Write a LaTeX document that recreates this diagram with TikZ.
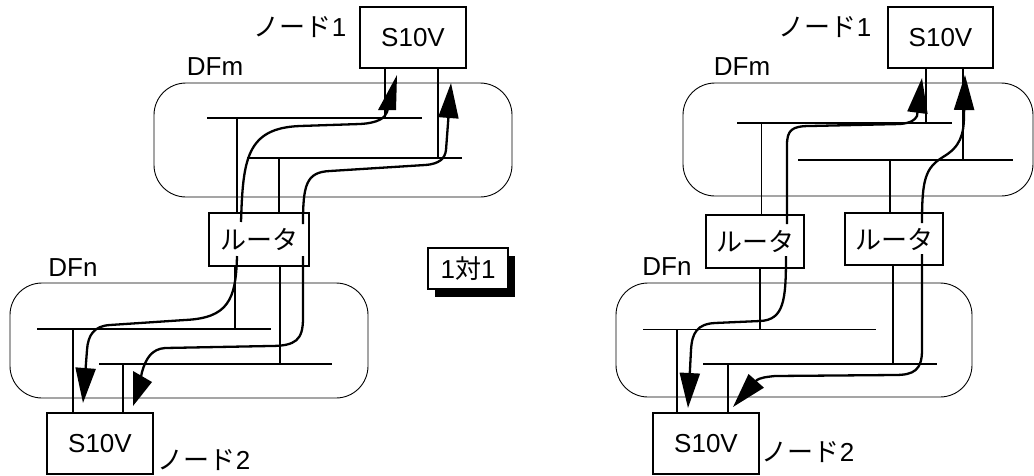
\documentclass[tikz,border=0pt]{standalone}
\usepackage{fontspec}
\setmainfont{Liberation Sans}
\newfontfamily\jp{Noto Sans CJK JP}
\usetikzlibrary{arrows.meta,shadows}
\tikzset{
  txt/.style={font=\fontsize{26}{30}\selectfont, inner sep=0pt},
  sbox/.style={draw, line width=1.7pt, inner sep=0pt, outer sep=0pt, font=\fontsize{26}{30}\selectfont, fill=white},
  dfarea/.style={draw, line width=0.9pt, rounded corners=32pt, inner sep=0pt},
  bus/.style={line width=1.6pt},
  thinbus/.style={line width=0.9pt},
  flowtip/.tip={Triangle[length=35pt 0 0,width=20pt 0 0]},
  flowline/.style={line width=2.3pt},
  flow/.style={flowline, -flowtip},
  headfill/.style={fill=black},
}
\begin{document}
\begin{tikzpicture}[x=1pt,y=-1pt]
\useasboundingbox (0,0) rectangle (1034,475);
% ================= LEFT =================
\node[dfarea, minimum width=358pt, minimum height=114pt] (dfmL) at (333,140) {};
\node[dfarea, minimum width=358pt, minimum height=115pt] (dfnL) at (189,340.5) {};
\node[txt] (lblDFmL) at (215,67) {DFm};
\node[txt] (lblDFnL) at (73,268) {DFn};
\node[sbox, minimum width=106pt, minimum height=61pt] (s1L) at (413,37.5) {S10V};
\node[sbox, minimum width=100pt, minimum height=53pt] (rL) at (259,239.5) {\jp ルータ};
\node[sbox, minimum width=106pt, minimum height=61pt] (s2L) at (100,443.5) {S10V};
\node[txt] (n1L) at (300,27) {{\jp ノード}1};
\node[txt] (n2L) at (204,460) {{\jp ノード}2};
% buses
\coordinate (bmaL) at (207,118); \coordinate (bmaR) at (422,118);
\coordinate (bmbL) at (247,158); \coordinate (bmbR) at (462,158);
\coordinate (bnaL) at (37,329);  \coordinate (bnaR) at (271,329);
\coordinate (bnbL) at (99,364);  \coordinate (bnbR) at (332,364);
\draw[bus] (bmaL) -- (bmaR);
\draw[bus] (bmbL) -- (bmbR);
\draw[bus] (bnaL) -- (bnaR);
\draw[bus] (bnbL) -- (bnbR);
% drops
\coordinate (d1) at (385,118); \coordinate (d2) at (438,158);
\coordinate (d3) at (237,118); \coordinate (d4) at (279,158);
\coordinate (d5) at (235,329); \coordinate (d6) at (280,364);
\coordinate (d7) at (73,329);  \coordinate (d8) at (123,364);
\draw[bus] (s1L.south -| d1) -- (d1);
\draw[bus] (s1L.south -| d2) -- (d2);
\draw[bus] (rL.north -| d3) -- (d3);
\draw[bus] (rL.north -| d4) -- (d4);
\draw[bus] (rL.south -| d5) -- (d5);
\draw[bus] (rL.south -| d6) -- (d6);
\draw[bus] (s2L.north -| d7) -- (d7);
\draw[bus] (s2L.north -| d8) -- (d8);
% flows
\draw[flowline] (241,222) .. controls (243,160) and (246,128) .. (300,126) -- (360,124)
  .. controls (378,123) and (385,118) .. (387,112) -- (390,100);
\fill[headfill] (378,110) -- (396,110) -- (397,75) -- cycle;
\draw[flow] (303,224) .. controls (303,185) and (306,172) .. (330,171) -- (425,165)
  .. controls (440,164) and (445,158) .. (446,150) -- (451,83);
\draw[flow] (237,256) .. controls (236,300) and (228,318) .. (185,320) -- (110,325)
  .. controls (94,326) and (88,335) .. (87,350) -- (83,403);
\draw[flowline] (303,256) -- (303,318) .. controls (303,340) and (296,346) .. (270,346) -- (165,348)
  .. controls (152,349) and (146,358) .. (142,372) -- (140,382);
\fill[headfill] (133,371) -- (152,382) -- (133,406) -- cycle;
% 1 to 1
\node[sbox, minimum width=80pt, minimum height=41pt,
      drop shadow={shadow xshift=7pt, shadow yshift=-8pt, fill=black, opacity=1}] (one) at (468,268.5) {1{\jp 対}1};
% ================= RIGHT =================
\node[dfarea, minimum width=350pt, minimum height=113pt] (dfmR) at (858,139.5) {};
\node[dfarea, minimum width=356pt, minimum height=114pt] (dfnR) at (794,340) {};
\node[txt] (lblDFmR) at (742,67) {DFm};
\node[txt] (lblDFnR) at (667,267) {DFn};
\node[sbox, minimum width=105pt, minimum height=61pt] (s1R) at (940.5,37.5) {S10V};
\node[sbox, minimum width=98pt, minimum height=53pt] (r1R) at (755,241.5) {\jp ルータ};
\node[sbox, minimum width=98pt, minimum height=52pt] (r2R) at (894,239) {\jp ルータ};
\node[sbox, minimum width=106pt, minimum height=61pt] (s2R) at (706,443.5) {S10V};
\node[txt] (n1R) at (825,27) {{\jp ノード}1};
\node[txt] (n2R) at (808,452) {{\jp ノード}2};
\coordinate (cmaL) at (737,123); \coordinate (cmaR) at (952,123);
\coordinate (cmbL) at (798,160); \coordinate (cmbR) at (1013,160);
\coordinate (cnaL) at (643,329); \coordinate (cnaR) at (876,329);
\coordinate (cnbL) at (703,364); \coordinate (cnbR) at (937,364);
\draw[bus] (cmaL) -- (cmaR);
\draw[bus] (cmbL) -- (cmbR);
\draw[thinbus] (cnaL) -- (cnaR);
\draw[bus] (cnbL) -- (cnbR);
\coordinate (e1) at (926,123); \coordinate (e2) at (963,160);
\coordinate (e3) at (761,123); \coordinate (e4) at (890,160);
\coordinate (e5) at (760,329); \coordinate (e6) at (893,364);
\coordinate (e7) at (677,329); \coordinate (e8) at (728,364);
\draw[bus] (s1R.south -| e1) -- (e1);
\draw[bus] (s1R.south -| e2) -- (e2);
\draw[thinbus] (r1R.north -| e3) -- (e3);
\draw[bus] (r2R.north -| e4) -- (e4);
\draw[bus] (r1R.south -| e5) -- (e5);
\draw[bus] (r2R.south -| e6) -- (e6);
\draw[bus] (s2R.north -| e7) -- (e7);
\draw[bus] (s2R.north -| e8) -- (e8);
\draw[flow] (787,224) -- (787,145) .. controls (787,130) and (792,126) .. (810,126) -- (900,124)
  .. controls (911,123) and (915,120) .. (917,116) -- (922,78);
\draw[flow] (922,223) .. controls (922,180) and (925,168) .. (943,157)
  .. controls (960,147) and (964,135) .. (964,115) -- (965,75);
\draw[flow] (786,256) .. controls (786,300) and (784,320) .. (760,321) -- (715,323)
  .. controls (697,324) and (692,333) .. (691,350) -- (688,408);
\draw[flow] (922,254) -- (922,350) .. controls (922,370) and (914,375) .. (895,375) -- (775,376)
  .. controls (765,377) and (760,378) .. (757,380) -- (733,407);
\end{tikzpicture}
\end{document}
